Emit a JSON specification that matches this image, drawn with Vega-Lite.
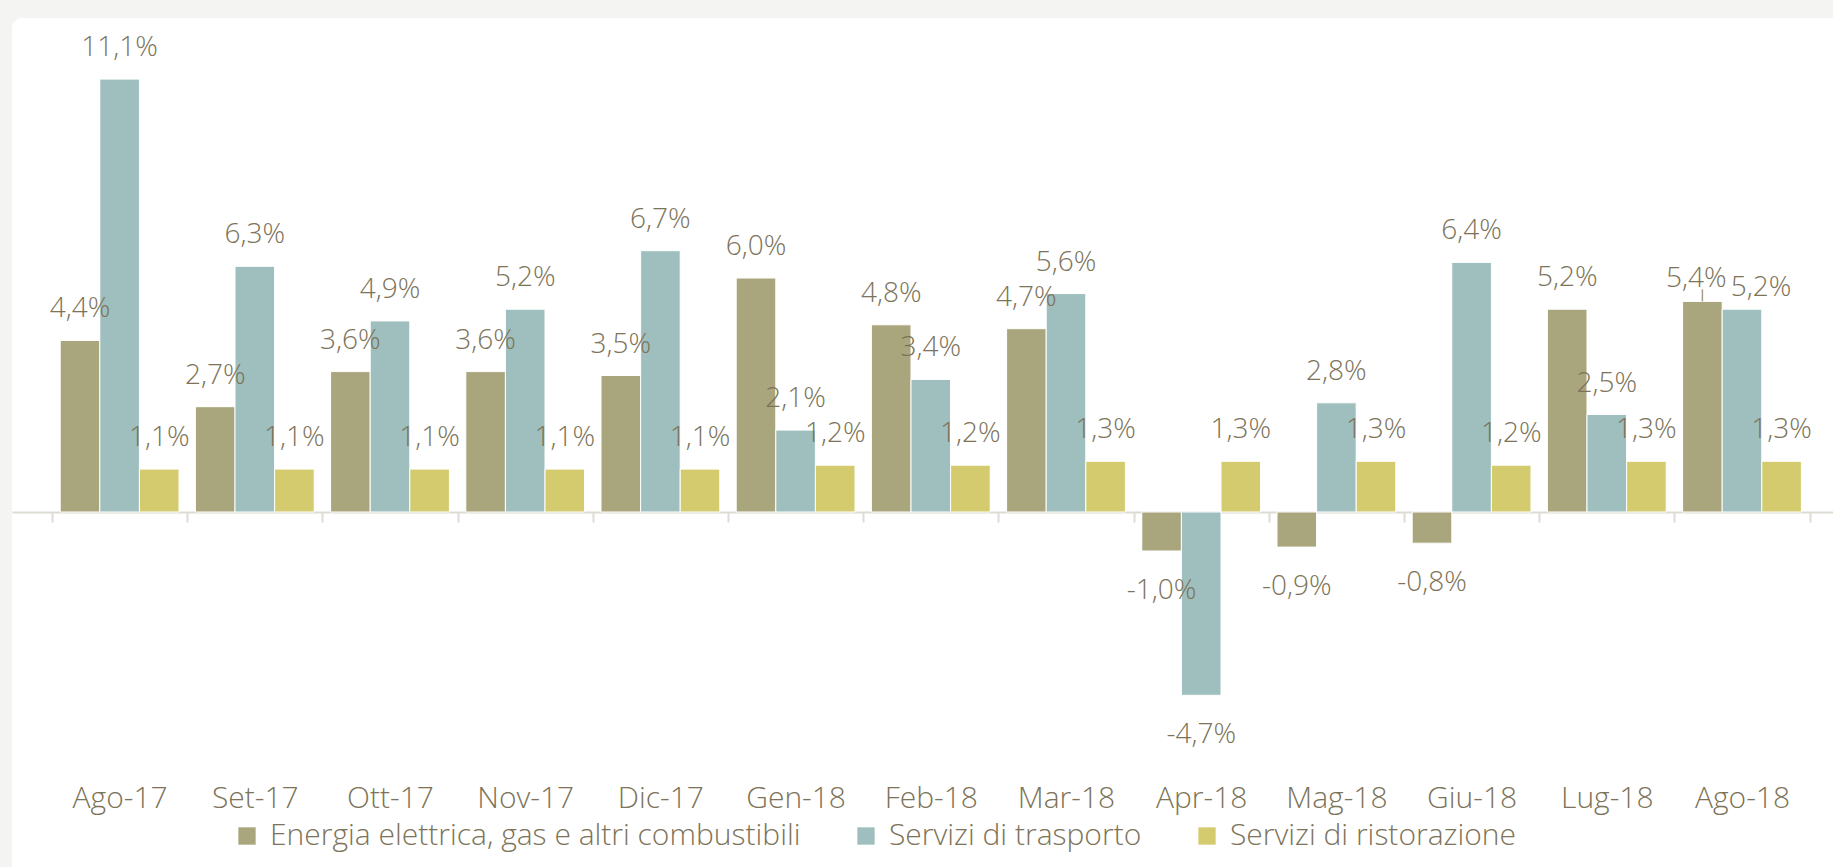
{
  "$schema": "https://vega.github.io/schema/vega-lite/v6.json",
  "width": 1830,
  "height": 860,
  "autosize": {"type": "none"},
  "padding": {"left": 12, "top": 18, "right": 0, "bottom": 0},
  "background": "#F4F4F2",
  "config": {"view": {"fill": "white", "stroke": null, "cornerRadius": 10}, "font": "Open Sans"},
  "data": {"values": [
    {"m": "Ago-17", "s": "Energia elettrica, gas e altri combustibili", "v": 4.4},
    {"m": "Ago-17", "s": "Servizi di trasporto", "v": 11.1},
    {"m": "Ago-17", "s": "Servizi di ristorazione", "v": 1.1},
    {"m": "Set-17", "s": "Energia elettrica, gas e altri combustibili", "v": 2.7},
    {"m": "Set-17", "s": "Servizi di trasporto", "v": 6.3},
    {"m": "Set-17", "s": "Servizi di ristorazione", "v": 1.1},
    {"m": "Ott-17", "s": "Energia elettrica, gas e altri combustibili", "v": 3.6},
    {"m": "Ott-17", "s": "Servizi di trasporto", "v": 4.9},
    {"m": "Ott-17", "s": "Servizi di ristorazione", "v": 1.1},
    {"m": "Nov-17", "s": "Energia elettrica, gas e altri combustibili", "v": 3.6},
    {"m": "Nov-17", "s": "Servizi di trasporto", "v": 5.2},
    {"m": "Nov-17", "s": "Servizi di ristorazione", "v": 1.1},
    {"m": "Dic-17", "s": "Energia elettrica, gas e altri combustibili", "v": 3.5},
    {"m": "Dic-17", "s": "Servizi di trasporto", "v": 6.7},
    {"m": "Dic-17", "s": "Servizi di ristorazione", "v": 1.1},
    {"m": "Gen-18", "s": "Energia elettrica, gas e altri combustibili", "v": 6.0},
    {"m": "Gen-18", "s": "Servizi di trasporto", "v": 2.1},
    {"m": "Gen-18", "s": "Servizi di ristorazione", "v": 1.2},
    {"m": "Feb-18", "s": "Energia elettrica, gas e altri combustibili", "v": 4.8},
    {"m": "Feb-18", "s": "Servizi di trasporto", "v": 3.4},
    {"m": "Feb-18", "s": "Servizi di ristorazione", "v": 1.2},
    {"m": "Mar-18", "s": "Energia elettrica, gas e altri combustibili", "v": 4.7},
    {"m": "Mar-18", "s": "Servizi di trasporto", "v": 5.6},
    {"m": "Mar-18", "s": "Servizi di ristorazione", "v": 1.3},
    {"m": "Apr-18", "s": "Energia elettrica, gas e altri combustibili", "v": -1.0},
    {"m": "Apr-18", "s": "Servizi di trasporto", "v": -4.7},
    {"m": "Apr-18", "s": "Servizi di ristorazione", "v": 1.3},
    {"m": "Mag-18", "s": "Energia elettrica, gas e altri combustibili", "v": -0.9},
    {"m": "Mag-18", "s": "Servizi di trasporto", "v": 2.8},
    {"m": "Mag-18", "s": "Servizi di ristorazione", "v": 1.3},
    {"m": "Giu-18", "s": "Energia elettrica, gas e altri combustibili", "v": -0.8},
    {"m": "Giu-18", "s": "Servizi di trasporto", "v": 6.4},
    {"m": "Giu-18", "s": "Servizi di ristorazione", "v": 1.2},
    {"m": "Lug-18", "s": "Energia elettrica, gas e altri combustibili", "v": 5.2},
    {"m": "Lug-18", "s": "Servizi di trasporto", "v": 2.5},
    {"m": "Lug-18", "s": "Servizi di ristorazione", "v": 1.3},
    {"m": "Ago-18", "s": "Energia elettrica, gas e altri combustibili", "v": 5.4},
    {"m": "Ago-18", "s": "Servizi di trasporto", "v": 5.2},
    {"m": "Ago-18", "s": "Servizi di ristorazione", "v": 1.3}
  ]},
  "transform": [
    {"calculate": "replace(replace(format(datum.v, '.1f'), '.', ','), '\u2212', '-') + '%'", "as": "lbl"},
    {"calculate": "datum.m == 'Ago-18' && datum.s != 'Servizi di ristorazione'", "as": "moved"}
  ],
  "encoding": {
    "x": {
      "field": "m", "type": "nominal", "sort": null,
      "scale": {"paddingInner": 0, "paddingOuter": 0.2678, "align": 0.5525},
      "axis": {
        "title": null, "orient": "bottom", "offset": -366,
        "domainColor": "#DEDBD3", "domainWidth": 2,
        "tickColor": "#DEDBD3", "tickWidth": 2, "tickSize": 10, "tickBand": "extent",
        "labelAngle": 0, "labelFont": "Open Sans", "labelFontWeight": 300, "labelFontSize": 30,
        "labelColor": "#7C7359", "labelBaseline": "alphabetic", "labelPadding": 285, "grid": false
      }
    },
    "xOffset": {
      "field": "s", "type": "nominal",
      "sort": ["Energia elettrica, gas e altri combustibili", "Servizi di trasporto", "Servizi di ristorazione"],
      "scale": {"paddingInner": 0, "paddingOuter": 0.207}
    },
    "y": {
      "field": "v", "type": "quantitative",
      "scale": {"domain": [-9.385, 12.667], "nice": false, "zero": false},
      "axis": null
    }
  },
  "layer": [
    {
      "mark": {"type": "bar", "stroke": "white", "strokeWidth": 1},
      "encoding": {
        "color": {
          "field": "s", "type": "nominal",
          "scale": {
            "domain": ["Energia elettrica, gas e altri combustibili", "Servizi di trasporto", "Servizi di ristorazione"],
            "range": ["#A9A57C", "#9EBFBE", "#D3CB6D"]
          },
          "legend": {
            "orient": "none", "legendX": 220, "legendY": 803, "direction": "horizontal", "title": null,
            "symbolType": "square", "symbolSize": 300, "symbolStrokeWidth": 0,
            "labelFont": "Open Sans", "labelFontWeight": 300, "labelFontSize": 30, "labelColor": "#7C7359",
            "labelLimit": 1000, "labelOffset": 8, "columnPadding": 50
          }
        }
      }
    },
    {
      "transform": [{"filter": "datum.v >= 0 && !datum.moved"}],
      "mark": {"type": "text", "baseline": "alphabetic", "dy": -23, "font": "Open Sans", "fontWeight": 300, "fontSize": 28, "color": "#7C7359"},
      "encoding": {"text": {"field": "lbl"}}
    },
    {
      "transform": [{"filter": "datum.v < 0"}],
      "mark": {"type": "text", "baseline": "alphabetic", "dy": 48, "font": "Open Sans", "fontWeight": 300, "fontSize": 28, "color": "#7C7359"},
      "encoding": {"text": {"field": "lbl"}}
    },
    {
      "transform": [{"filter": "datum.moved && datum.s == 'Energia elettrica, gas e altri combustibili'"}],
      "mark": {"type": "text", "baseline": "alphabetic", "dy": -14, "dx": -6, "font": "Open Sans", "fontWeight": 300, "fontSize": 28, "color": "#7C7359"},
      "encoding": {"text": {"field": "lbl"}}
    },
    {
      "transform": [{"filter": "datum.moved && datum.s == 'Servizi di trasporto'"}],
      "mark": {"type": "text", "baseline": "alphabetic", "dy": -13, "dx": 19, "font": "Open Sans", "fontWeight": 300, "fontSize": 28, "color": "#7C7359"},
      "encoding": {"text": {"field": "lbl"}}
    },
    {
      "transform": [{"filter": "datum.moved && datum.s == 'Energia elettrica, gas e altri combustibili'"}],
      "mark": {"type": "rule", "color": "#A49C84", "strokeWidth": 1.5},
      "encoding": {"y2": {"datum": 5.71}}
    }
  ]
}
